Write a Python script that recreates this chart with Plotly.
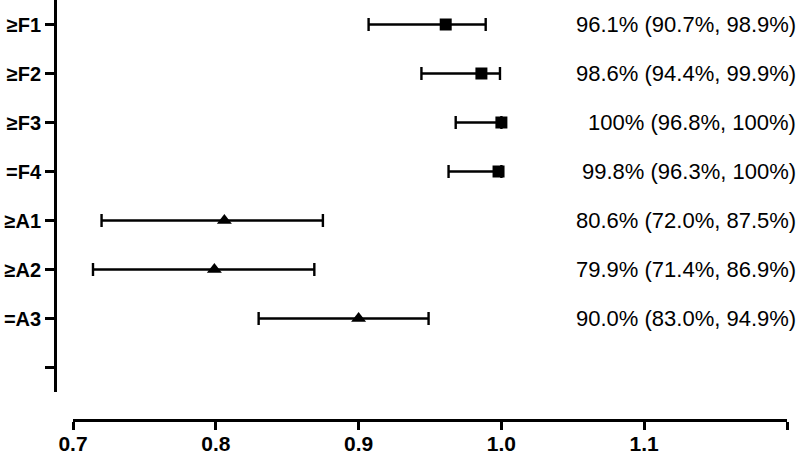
import plotly.graph_objects as go

labels = ["≥F1", "≥F2", "≥F3", "=F4", "≥A1", "≥A2", "=A3"]
est = [0.961, 0.986, 1.000, 0.998, 0.806, 0.799, 0.900]
lower = [0.907, 0.944, 0.968, 0.963, 0.720, 0.714, 0.830]
upper = [0.989, 0.999, 1.000, 1.000, 0.875, 0.869, 0.949]
texts = ["96.1% (90.7%, 98.9%)", "98.6% (94.4%, 99.9%)", "100% (96.8%, 100%)",
         "99.8% (96.3%, 100%)", "80.6% (72.0%, 87.5%)", "79.9% (71.4%, 86.9%)",
         "90.0% (83.0%, 94.9%)"]
groups = ["F", "F", "F", "F", "A", "A", "A"]
x_ticks = [0.7, 0.8, 0.9, 1.0, 1.1, 1.2]

pos = list(range(1, len(labels) + 1))
fig = go.Figure()
for g, sym in [("F", "square"), ("A", "triangle-up")]:
    idx = [i for i, gg in enumerate(groups) if gg == g]
    fig.add_trace(go.Scatter(
        x=[est[i] for i in idx], y=[pos[i] for i in idx], mode="markers",
        marker=dict(symbol=sym, size=12 if sym == "square" else 13, color="black"),
        error_x=dict(type="data", symmetric=False,
                     array=[upper[i] - est[i] for i in idx],
                     arrayminus=[est[i] - lower[i] for i in idx],
                     color="black", thickness=2.4, width=6.5),
        showlegend=False, cliponaxis=False))

for i, t in enumerate(texts):
    fig.add_annotation(x=0.997, xref="paper", y=pos[i], yref="y", text=t,
                       showarrow=False, xanchor="right", yanchor="middle",
                       font=dict(family="Liberation Sans, Arial", size=22, color="black"))

fig.update_layout(
    width=800, height=453, margin=dict(l=0, r=0, t=0, b=0),
    plot_bgcolor="white", paper_bgcolor="white",
    xaxis=dict(domain=[73/800, 787/800], range=[0.7, 1.2], tickvals=x_ticks,
               ticktext=[f"{v:.1f}" for v in x_ticks],
               anchor="free", position=(453-420)/453, automargin=False,
               showline=True, linecolor="black", linewidth=2.5,
               ticks="outside", ticklen=8, tickwidth=2.5, tickcolor="black",
               ticklabelstandoff=-4,
               showgrid=False, zeroline=False,
               tickfont=dict(family="Liberation Sans, Arial", size=21, color="black", weight="bold")),
    yaxis=dict(domain=[(453-392)/453, 1], range=[len(labels) + 1.5, 0.5],
               tickvals=list(range(1, len(labels) + 2)), ticktext=labels + [""],
               anchor="free", position=55/800, automargin=False,
               showline=True, linecolor="black", linewidth=2.7,
               ticks="outside", ticklen=9, tickwidth=2.5, tickcolor="black",
               showgrid=False, zeroline=False,
               tickfont=dict(family="Liberation Sans, Arial", size=20, color="black", weight="bold")),
)
fig.write_html("out.html", config={"displayModeBar": False},
               post_script="document.body.style.margin='0';document.body.style.overflow='hidden';")
